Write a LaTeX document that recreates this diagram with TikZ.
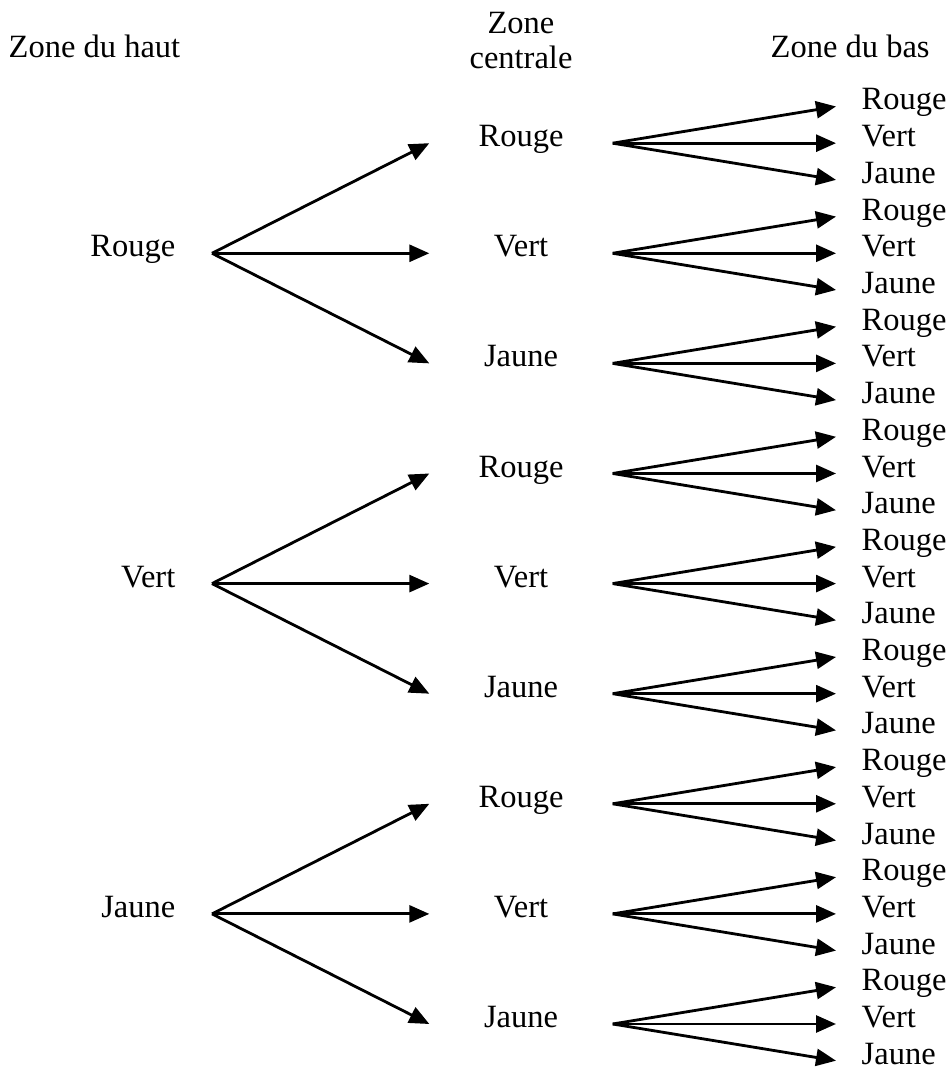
\documentclass[tikz,border=0pt]{standalone}
\usepackage{fontspec}
\setmainfont{Liberation Serif}
\usetikzlibrary{positioning, arrows.meta}

\begin{document}
\begin{tikzpicture}[x=0.02cm, y=-0.02cm, thick,
						font=\fontsize{18.5}{19.5}\selectfont,
						titre/.style={inner sep=0pt},
						haut/.style={anchor=base east, inner xsep=0.72cm, inner ysep=0pt},
						centre/.style={anchor=base, minimum width=3.64cm, inner sep=0pt},
						bas/.style={anchor=base west, inner xsep=0.5cm, inner ysep=0pt},
						arrow/.style={-{Triangle[length=0.4cm, width=0.34cm]}, line width=1.6pt, draw=black}]
						
						\useasboundingbox (0,0) rectangle (948,1070);
						
						% titres
						\node[titre, anchor=base west] (thaut) at (8,58) {Zone du haut};
						\node[titre, anchor=north, align=center] (tcentre) at (521,12) {Zone\\centrale};
						\node[titre, anchor=base west] (tbas) at (770,58) {Zone du bas};
						
						% zone du haut
						\node[haut] (h1) at (212,256.8) {Rouge};
						\node[haut] (h2) at (212,587.1) {Vert};
						\node[haut] (h3) at (212,917.4) {Jaune};
						
						% zone centrale
						\node[centre] (c1) at (521,146.7) {Rouge};
						\node[centre] (c2) at (521,256.8) {Vert};
						\node[centre] (c3) at (521,366.9) {Jaune};
						\node[centre] (c4) at (521,477.0) {Rouge};
						\node[centre] (c5) at (521,587.1) {Vert};
						\node[centre] (c6) at (521,697.2) {Jaune};
						\node[centre] (c7) at (521,807.3) {Rouge};
						\node[centre] (c8) at (521,917.4) {Vert};
						\node[centre] (c9) at (521,1027.5) {Jaune};
						
						% zone du bas
						\node[bas] (b1a) at (836,110.0) {Rouge};
						\node[bas] (b1b) at (836,146.7) {Vert};
						\node[bas] (b1c) at (836,183.4) {Jaune};
						\node[bas] (b2a) at (836,220.1) {Rouge};
						\node[bas] (b2b) at (836,256.8) {Vert};
						\node[bas] (b2c) at (836,293.5) {Jaune};
						\node[bas] (b3a) at (836,330.2) {Rouge};
						\node[bas] (b3b) at (836,366.9) {Vert};
						\node[bas] (b3c) at (836,403.6) {Jaune};
						\node[bas] (b4a) at (836,440.3) {Rouge};
						\node[bas] (b4b) at (836,477.0) {Vert};
						\node[bas] (b4c) at (836,513.7) {Jaune};
						\node[bas] (b5a) at (836,550.4) {Rouge};
						\node[bas] (b5b) at (836,587.1) {Vert};
						\node[bas] (b5c) at (836,623.8) {Jaune};
						\node[bas] (b6a) at (836,660.5) {Rouge};
						\node[bas] (b6b) at (836,697.2) {Vert};
						\node[bas] (b6c) at (836,733.9) {Jaune};
						\node[bas] (b7a) at (836,770.6) {Rouge};
						\node[bas] (b7b) at (836,807.3) {Vert};
						\node[bas] (b7c) at (836,844.0) {Jaune};
						\node[bas] (b8a) at (836,880.7) {Rouge};
						\node[bas] (b8b) at (836,917.4) {Vert};
						\node[bas] (b8c) at (836,954.1) {Jaune};
						\node[bas] (b9a) at (836,990.8) {Rouge};
						\node[bas] (b9b) at (836,1027.5) {Vert};
						\node[bas] (b9c) at (836,1064.2) {Jaune};
						
						% haut -> centre
						\draw[arrow] ([yshift=2pt]h1.base east) -- ([yshift=2pt]c1.base west);
						\draw[arrow] ([yshift=2pt]h1.base east) -- ([yshift=2pt]c2.base west);
						\draw[arrow] ([yshift=2pt]h1.base east) -- ([yshift=2pt]c3.base west);
						\draw[arrow] ([yshift=2pt]h2.base east) -- ([yshift=2pt]c4.base west);
						\draw[arrow] ([yshift=2pt]h2.base east) -- ([yshift=2pt]c5.base west);
						\draw[arrow] ([yshift=2pt]h2.base east) -- ([yshift=2pt]c6.base west);
						\draw[arrow] ([yshift=2pt]h3.base east) -- ([yshift=2pt]c7.base west);
						\draw[arrow] ([yshift=2pt]h3.base east) -- ([yshift=2pt]c8.base west);
						\draw[arrow] ([yshift=2pt]h3.base east) -- ([yshift=2pt]c9.base west);
						
						% centre -> bas
						\draw[arrow] ([yshift=2pt]c1.base east) -- ([yshift=2pt]b1a.base west);
						\draw[arrow] ([yshift=2pt]c1.base east) -- ([yshift=2pt]b1b.base west);
						\draw[arrow] ([yshift=2pt]c1.base east) -- ([yshift=2pt]b1c.base west);
						\draw[arrow] ([yshift=2pt]c2.base east) -- ([yshift=2pt]b2a.base west);
						\draw[arrow] ([yshift=2pt]c2.base east) -- ([yshift=2pt]b2b.base west);
						\draw[arrow] ([yshift=2pt]c2.base east) -- ([yshift=2pt]b2c.base west);
						\draw[arrow] ([yshift=2pt]c3.base east) -- ([yshift=2pt]b3a.base west);
						\draw[arrow] ([yshift=2pt]c3.base east) -- ([yshift=2pt]b3b.base west);
						\draw[arrow] ([yshift=2pt]c3.base east) -- ([yshift=2pt]b3c.base west);
						\draw[arrow] ([yshift=2pt]c4.base east) -- ([yshift=2pt]b4a.base west);
						\draw[arrow] ([yshift=2pt]c4.base east) -- ([yshift=2pt]b4b.base west);
						\draw[arrow] ([yshift=2pt]c4.base east) -- ([yshift=2pt]b4c.base west);
						\draw[arrow] ([yshift=2pt]c5.base east) -- ([yshift=2pt]b5a.base west);
						\draw[arrow] ([yshift=2pt]c5.base east) -- ([yshift=2pt]b5b.base west);
						\draw[arrow] ([yshift=2pt]c5.base east) -- ([yshift=2pt]b5c.base west);
						\draw[arrow] ([yshift=2pt]c6.base east) -- ([yshift=2pt]b6a.base west);
						\draw[arrow] ([yshift=2pt]c6.base east) -- ([yshift=2pt]b6b.base west);
						\draw[arrow] ([yshift=2pt]c6.base east) -- ([yshift=2pt]b6c.base west);
						\draw[arrow] ([yshift=2pt]c7.base east) -- ([yshift=2pt]b7a.base west);
						\draw[arrow] ([yshift=2pt]c7.base east) -- ([yshift=2pt]b7b.base west);
						\draw[arrow] ([yshift=2pt]c7.base east) -- ([yshift=2pt]b7c.base west);
						\draw[arrow] ([yshift=2pt]c8.base east) -- ([yshift=2pt]b8a.base west);
						\draw[arrow] ([yshift=2pt]c8.base east) -- ([yshift=2pt]b8b.base west);
						\draw[arrow] ([yshift=2pt]c8.base east) -- ([yshift=2pt]b8c.base west);
						\draw[arrow] ([yshift=2pt]c9.base east) -- ([yshift=2pt]b9a.base west);
						\draw[arrow] ([yshift=2pt]c9.base east) -- ([yshift=2pt]b9b.base west);
						\draw[arrow] ([yshift=2pt]c9.base east) -- ([yshift=2pt]b9c.base west);
					\end{tikzpicture}
\end{document}
